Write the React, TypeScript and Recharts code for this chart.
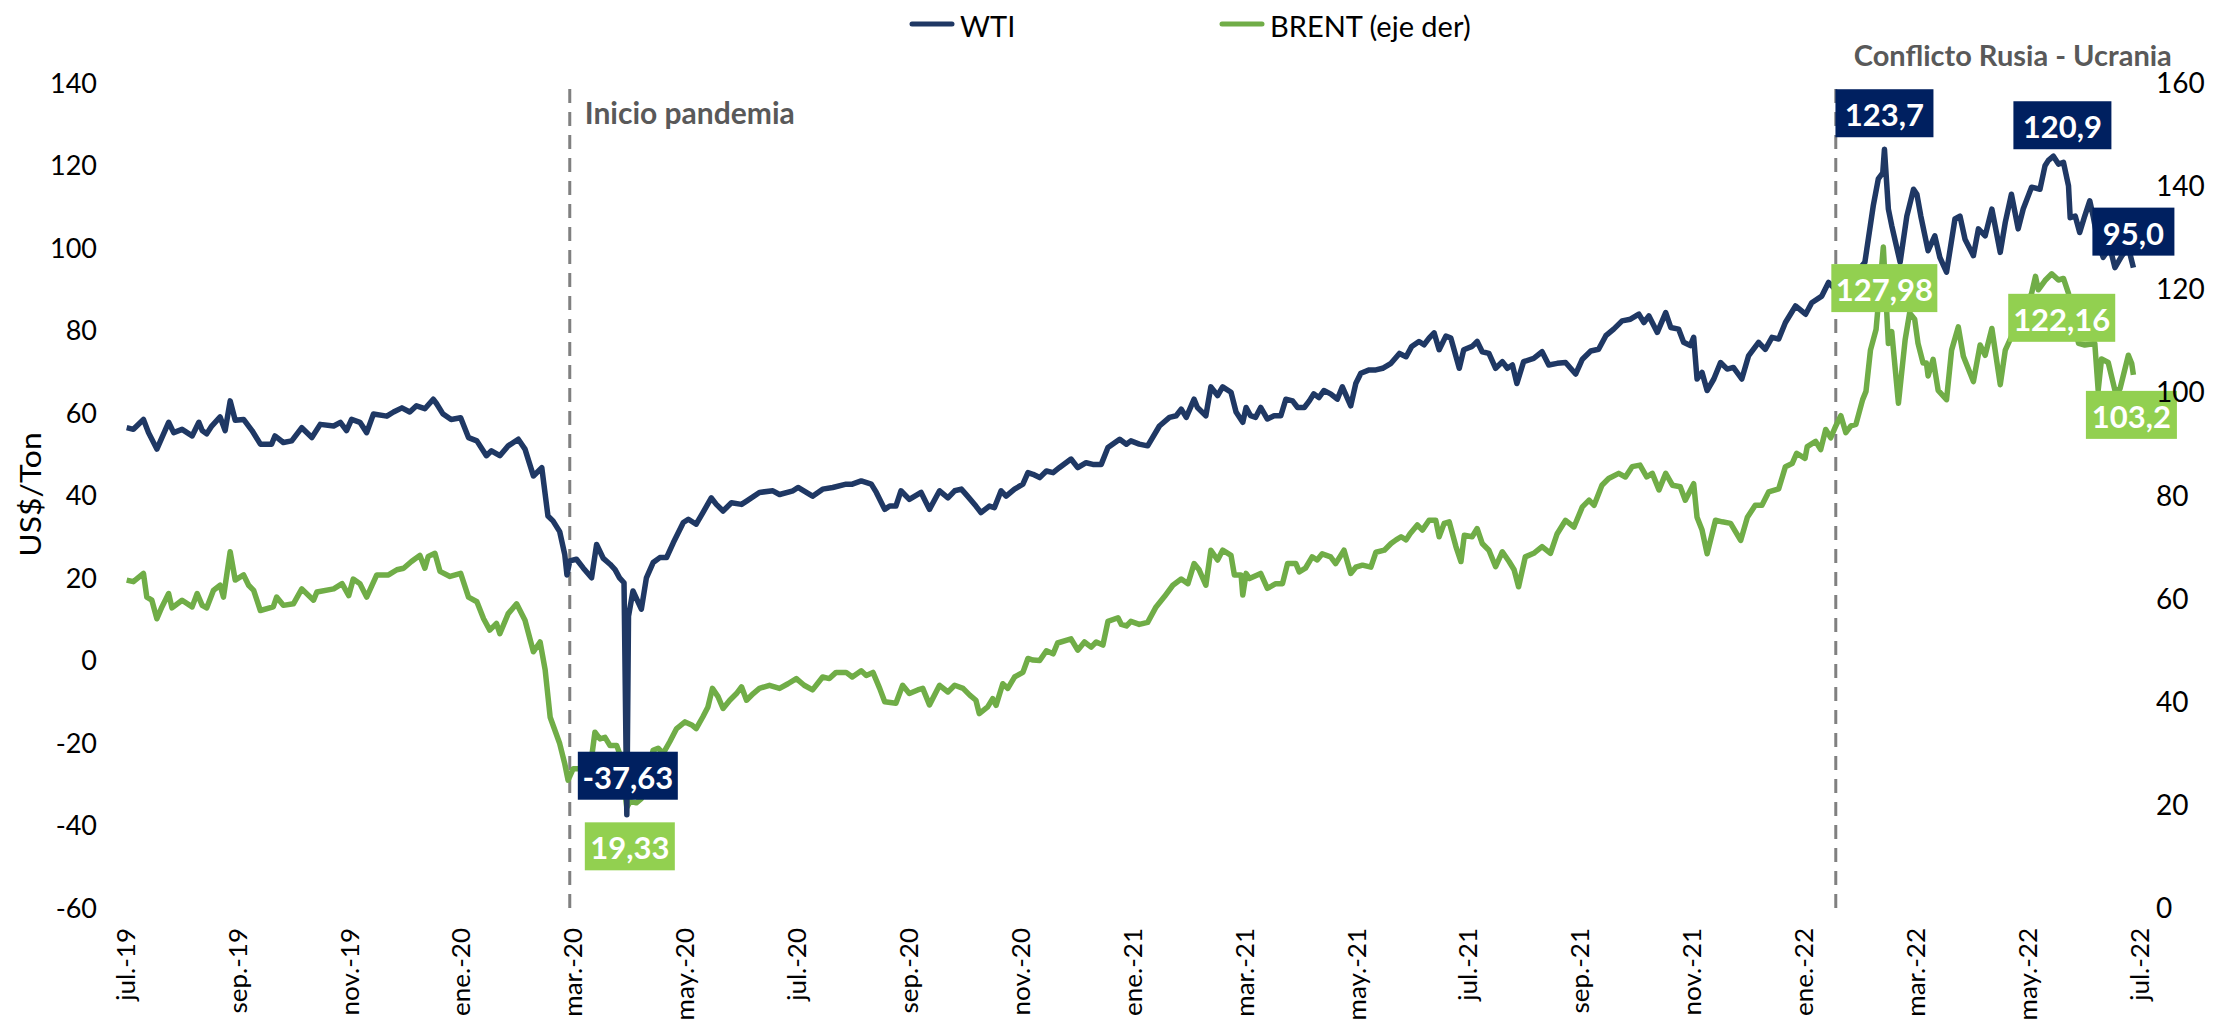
import React from 'react';
import { LineChart, Line, XAxis, YAxis, ReferenceLine, ReferenceDot, Legend, Label } from 'recharts';

// months elapsed since jul-2019 (position on the date axis)
const WTI_T = [0.03,0.15,0.33,0.42,0.57,0.66,0.78,0.87,1.02,1.2,1.32,1.38,1.46,1.55,1.7,1.79,1.88,1.97,2.12,2.27,2.42,2.62,2.68,2.83,2.98,3.16,3.34,3.49,3.73,3.85,3.96,4.05,4.2,4.32,4.44,4.68,4.8,4.95,5.09,5.21,5.36,5.51,5.57,5.68,5.83,6.0,6.14,6.29,6.46,6.55,6.7,6.85,7.03,7.15,7.3,7.45,7.56,7.65,7.77,7.86,7.9,7.95,8.07,8.19,8.34,8.43,8.55,8.67,8.76,8.84,8.92,8.97,9.0,9.08,9.23,9.32,9.44,9.56,9.68,9.8,9.98,10.07,10.21,10.33,10.48,10.57,10.69,10.84,11.02,11.11,11.34,11.58,11.7,11.94,12.03,12.29,12.47,12.65,12.89,13.0,13.16,13.34,13.43,13.58,13.67,13.78,13.87,14.02,14.23,14.38,14.56,14.71,14.83,14.95,15.06,15.21,15.3,15.45,15.54,15.66,15.75,15.9,16.05,16.14,16.23,16.35,16.47,16.59,16.7,16.91,17.03,17.18,17.3,17.45,17.57,17.78,17.9,17.98,18.13,18.28,18.49,18.67,18.79,18.88,18.97,19.11,19.17,19.32,19.41,19.53,19.62,19.77,19.86,19.98,20.04,20.12,20.21,20.3,20.42,20.54,20.66,20.75,20.87,20.96,21.08,21.17,21.25,21.34,21.43,21.55,21.67,21.76,21.91,22.0,22.09,22.24,22.36,22.48,22.63,22.78,22.9,23.0,23.13,23.22,23.31,23.4,23.49,23.61,23.7,23.85,23.93,24.08,24.17,24.26,24.38,24.5,24.62,24.71,24.8,24.88,25.0,25.18,25.33,25.45,25.6,25.75,25.93,26.05,26.2,26.34,26.47,26.61,26.76,26.91,27.06,27.15,27.24,27.39,27.54,27.63,27.77,27.86,27.98,28.04,28.1,28.19,28.28,28.4,28.52,28.64,28.75,28.9,29.02,29.2,29.32,29.44,29.56,29.68,29.86,30.04,30.15,30.33,30.45,30.54,30.7,30.9,31.1,31.25,31.34,31.42,31.45,31.52,31.58,31.73,31.85,31.97,32.03,32.1,32.23,32.35,32.44,32.56,32.71,32.8,32.89,33.04,33.13,33.25,33.37,33.52,33.61,33.72,33.84,33.93,34.08,34.23,34.32,34.38,34.47,34.56,34.65,34.74,34.77,34.86,34.94,35.03,35.12,35.18,35.27,35.36,35.48,35.57,35.69,35.81,35.9];
const WTI = [56.2,55.8,58.2,55.0,51.0,53.8,57.5,55.0,55.8,54.2,57.5,55.5,54.7,56.6,58.8,55.5,62.7,58.0,58.2,55.5,52.2,52.2,54.2,52.6,53.0,56.2,53.8,57.0,56.6,57.5,55.5,58.2,57.5,55.0,59.5,59.0,60.0,61.0,60.0,61.5,60.8,63.1,62.0,59.6,58.2,58.6,53.8,53.0,49.4,50.6,49.4,51.8,53.4,51.0,44.5,46.5,34.8,33.6,31.0,25.5,20.5,23.9,24.3,22.2,19.8,27.9,24.5,23.1,21.8,19.8,18.6,-37.63,10.5,16.6,12.2,19.8,23.5,24.7,24.7,28.3,33.2,34.0,32.8,35.6,39.2,37.6,36.0,38.0,37.6,38.4,40.5,40.9,40.0,40.9,41.7,39.6,41.3,41.7,42.5,42.5,43.3,42.5,40.5,36.4,37.2,37.2,40.9,38.8,40.5,36.4,40.9,39.2,40.9,41.3,39.6,37.2,35.6,37.2,36.8,40.9,39.6,41.3,42.5,45.3,44.9,44.1,45.7,45.3,46.5,48.6,46.5,47.7,47.3,47.3,51.4,53.4,52.2,53.0,52.2,51.8,56.6,58.7,59.1,60.7,58.7,63.1,61.1,59.1,66.1,64.0,66.1,64.8,60.0,57.5,61.1,59.1,58.7,61.1,58.3,59.1,59.1,63.1,62.7,61.1,61.1,62.7,64.4,63.5,65.2,64.4,63.1,66.1,61.5,66.9,69.4,70.2,70.2,70.6,71.8,74.2,73.4,75.9,77.1,76.3,77.9,79.2,75.1,78.4,77.9,70.6,75.1,75.9,77.1,74.6,74.2,70.6,72.2,70.6,71.4,66.9,72.2,73.0,74.6,71.4,71.8,72.0,69.2,72.8,74.8,75.2,78.5,80.1,82.1,82.5,83.7,81.7,83.3,79.3,84.1,80.5,80.1,76.9,76.1,78.1,68.0,69.6,65.2,68.0,72.0,70.4,70.8,68.0,73.6,76.9,75.2,78.1,77.7,81.7,85.7,83.7,86.5,88.1,91.4,90.2,91.0,93.0,96.3,110.0,116.5,118.0,123.7,109.2,105.2,96.3,107.5,114.0,112.8,107.5,99.1,102.7,97.5,93.9,106.8,107.5,101.9,97.9,104.4,102.7,109.2,98.7,106.0,112.8,104.4,109.2,114.5,114.0,119.7,121.0,122.0,120.1,120.5,114.8,107.1,107.5,103.5,107.5,111.2,107.5,101.0,97.5,99.9,95.0,97.8,99.9,95.0];

const BRENT_T = [0.03,0.15,0.33,0.39,0.48,0.57,0.66,0.78,0.84,1.02,1.2,1.29,1.38,1.46,1.58,1.7,1.76,1.88,1.97,2.12,2.21,2.3,2.42,2.65,2.71,2.83,3.01,3.16,3.37,3.43,3.73,3.88,4.0,4.08,4.2,4.32,4.5,4.71,4.86,4.98,5.12,5.27,5.36,5.42,5.54,5.63,5.81,6.0,6.14,6.29,6.41,6.52,6.64,6.7,6.85,7.0,7.15,7.3,7.42,7.51,7.6,7.66,7.77,7.86,7.92,8.01,8.19,8.31,8.4,8.49,8.58,8.67,8.79,8.85,8.97,9.03,9.14,9.23,9.44,9.53,9.62,9.74,9.86,10.01,10.13,10.21,10.33,10.42,10.5,10.6,10.69,10.81,10.93,11.02,11.11,11.23,11.34,11.52,11.7,11.85,12.0,12.14,12.29,12.47,12.59,12.71,12.89,13.0,13.16,13.25,13.37,13.49,13.58,13.78,13.9,14.02,14.17,14.26,14.38,14.56,14.71,14.83,14.98,15.1,15.21,15.27,15.42,15.51,15.57,15.69,15.78,15.9,16.05,16.14,16.23,16.35,16.47,16.59,16.67,16.91,17.03,17.15,17.27,17.36,17.48,17.57,17.75,17.81,17.9,17.98,18.13,18.28,18.43,18.58,18.73,18.88,19.0,19.11,19.2,19.32,19.41,19.53,19.62,19.77,19.83,19.95,19.98,20.04,20.1,20.3,20.42,20.57,20.69,20.78,20.93,20.99,21.1,21.22,21.31,21.4,21.55,21.64,21.79,21.91,22.0,22.12,22.27,22.36,22.51,22.63,22.72,22.81,22.9,22.97,23.1,23.19,23.31,23.43,23.49,23.58,23.67,23.79,23.88,23.94,24.08,24.17,24.26,24.38,24.5,24.62,24.74,24.83,24.91,25.03,25.18,25.33,25.48,25.6,25.75,25.9,26.05,26.17,26.26,26.4,26.52,26.7,26.82,26.94,27.08,27.2,27.3,27.42,27.54,27.66,27.8,27.89,28.04,28.1,28.19,28.28,28.43,28.55,28.7,28.88,29.0,29.14,29.26,29.38,29.56,29.68,29.8,29.88,30.03,30.07,30.22,30.31,30.4,30.49,30.58,30.67,30.76,30.85,30.94,31.06,31.12,31.2,31.3,31.43,31.52,31.58,31.7,31.82,31.9,31.99,32.05,32.14,32.2,32.23,32.32,32.41,32.56,32.65,32.77,32.86,33.04,33.16,33.25,33.37,33.52,33.61,33.72,33.8,33.95,34.08,34.15,34.2,34.32,34.44,34.56,34.65,34.74,34.86,34.92,35.03,35.21,35.27,35.33,35.45,35.57,35.66,35.81,35.87,35.9];
const BRENT = [63.4,63.1,64.7,60.1,59.5,55.9,58.2,60.8,58.0,59.5,58.2,60.8,58.5,58.0,61.4,62.4,60.1,68.9,63.4,64.4,62.4,61.4,57.5,58.2,60.1,58.5,58.8,61.7,59.5,61.1,61.7,62.7,60.4,63.6,62.7,60.1,64.4,64.4,65.4,65.7,67.0,68.2,65.7,68.0,68.6,65.1,64.1,64.7,60.1,59.2,55.9,53.7,55.0,53.0,56.9,58.8,55.6,49.5,51.4,46.0,36.8,35.0,31.7,27.8,24.6,26.8,26.8,26.5,33.9,32.6,32.9,31.3,31.3,29.5,19.33,20.5,20.2,21.0,30.4,30.8,29.8,32.1,34.6,35.9,35.3,34.6,36.9,38.8,42.4,40.8,38.5,40.1,41.4,42.7,40.1,41.4,42.4,43.0,42.4,43.3,44.3,43.0,42.1,44.6,44.3,45.5,45.5,44.6,45.8,44.9,45.5,42.4,39.8,39.5,43.0,41.4,42.1,42.4,39.2,43.0,41.7,43.0,42.4,41.1,40.1,37.5,38.8,40.4,39.1,43.3,42.4,44.6,45.5,48.2,47.9,47.8,49.7,49.1,51.2,52.0,49.8,51.4,50.4,51.4,50.8,55.4,56.1,54.8,54.5,55.4,54.8,55.2,58.2,60.2,62.4,63.6,62.7,66.6,65.4,62.4,69.2,67.3,69.2,68.2,64.4,64.4,60.5,64.7,63.7,64.7,61.8,62.7,62.7,66.6,66.6,65.0,65.7,67.9,67.3,68.5,67.9,66.6,69.2,64.7,65.9,66.3,65.9,68.8,69.2,70.5,71.2,71.8,71.2,72.4,74.1,73.1,75.0,75.0,71.8,74.4,74.7,69.9,67.0,72.1,71.8,73.4,70.5,69.2,66.0,68.9,67.0,65.4,62.1,67.9,68.6,69.9,68.6,72.4,75.0,73.7,77.6,78.9,77.9,81.8,83.1,84.1,83.4,85.4,85.7,83.4,84.1,80.9,84.1,81.8,81.5,78.9,82.1,75.6,73.1,68.5,75.0,74.7,74.4,71.1,75.6,77.9,77.9,80.5,81.1,85.4,86.0,88.0,87.0,89.3,90.3,88.7,92.6,91.0,93.3,95.3,92.0,93.3,93.6,98.4,100.0,108.0,112.0,127.98,109.3,111.6,97.7,110.0,115.2,114.0,109.3,105.5,105.5,103.0,106.2,100.2,98.4,108.0,112.5,106.8,101.9,109.0,107.0,112.2,101.3,108.0,110.6,114.5,116.0,119.0,122.3,119.7,121.5,122.8,121.6,121.9,119.0,112.0,109.3,109.0,109.3,100.2,106.3,105.6,100.2,100.5,107.0,105.4,103.2];

const TICK_T = [0,2,4,6,8,10,12,14,16,18,20,22,24,26,28,30,32,34,36];
const TICK_LABELS = ['jul.-19','sep.-19','nov.-19','ene.-20','mar.-20','may.-20','jul.-20','sep.-20','nov.-20','ene.-21','mar.-21','may.-21','jul.-21','sep.-21','nov.-21','ene.-22','mar.-22','may.-22','jul.-22'];
const LEFT_TICKS = [-60,-40,-20,0,20,40,60,80,100,120,140];
const RIGHT_TICKS = [0,20,40,60,80,100,120,140,160];

const WTI_CALLOUT_T = [8.97, 31.45, 34.47, 35.9];
const WTI_CALLOUT_V = [-37.63, 123.7, 122.0, 95.0];
const WTI_CALLOUT_TEXT = ['-37,63', '123,7', '120,9', '95,0'];
const BRENT_CALLOUT_T = [8.97, 31.43, 34.44, 35.9];
const BRENT_CALLOUT_V = [19.33, 127.98, 122.8, 103.2];
const BRENT_CALLOUT_TEXT = ['19,33', '127,98', '122,16', '103,2'];

const EVENT_T = [7.95, 30.58];
const EVENT_TEXT = ['Inicio pandemia', 'Conflicto Rusia - Ucrania'];

// layout (not data)
const WTI_BOX = [{ dx: 1, dy: -39, w: 100 }, { dx: 0, dy: -36, w: 98 }, { dx: 9, dy: -31, w: 98 }, { dx: 0, dy: -36, w: 82 }];
const BRENT_BOX = [{ dx: 3, dy: 39, w: 90 }, { dx: 1, dy: 41, w: 106 }, { dx: 10, dy: 44, w: 107 }, { dx: -2, dy: 40, w: 91 }];
const EVENT_LABEL_Y = [132.7, 146.6];
const EVENT_LABEL_DX = [15, 18];
const EVENT_FONT = [30, 29];

const NAVY = '#1F3864';
const GREEN = '#70AD47';
const BOX_NAVY = '#002060';
const BOX_GREEN = '#92D050';
const FONT = 'Lato, "Open Sans", sans-serif';

const wtiData = WTI_T.map((t, i) => ({ t, wti: WTI[i] }));
const brentData = BRENT_T.map((t, i) => ({ t, brent: BRENT[i] }));

const W = 2205;
const H = 1018;

const boxShape = (text: string, fill: string, dx: number, dy: number, w: number) => (p: any) => {
  const cx = p.cx + dx;
  const cy = p.cy + dy;
  const h = 48;
  return (
    <g>
      <rect x={cx - w / 2} y={cy - h / 2} width={w} height={h} fill={fill} />
      <text x={cx} y={cy + 1} textAnchor="middle" dominantBaseline="central" fill="#ffffff"
        fontFamily={FONT} fontWeight={700} fontSize={31}>{text}</text>
    </g>
  );
};

const eventShape = (text: string, dx: number, fs: number) => (p: any) => (
  <text x={p.cx + dx} y={p.cy} dominantBaseline="central" fill="#595959"
    fontFamily={FONT} fontWeight={700} fontSize={fs}>{text}</text>
);

const LeftTick = (p: any) => (
  <text x={p.x - 28} y={p.y} textAnchor="end" dominantBaseline="central" fill="#000"
    fontFamily={FONT} fontSize={27}>{p.payload.value}</text>
);
const RightTick = (p: any) => (
  <text x={p.x + 17} y={p.y} textAnchor="start" dominantBaseline="central" fill="#000"
    fontFamily={FONT} fontSize={28}>{p.payload.value}</text>
);
const XTick = (p: any) => {
  const idx = TICK_T.indexOf(p.payload.value);
  return (
    <text transform={`translate(${p.x},${p.y + 21}) rotate(-90) scale(1.04,1)`} textAnchor="end"
      dominantBaseline="central" fill="#000" fontFamily={FONT} fontSize={25}>
      {idx >= 0 ? TICK_LABELS[idx] : ''}
    </text>
  );
};

const YTitle = (p: any) => {
  const vb = p.viewBox || { x: 56, y: 74, width: 60, height: 825 };
  return (
    <text transform={`translate(${vb.x - 35},${vb.y + vb.height / 2}) rotate(-90) scale(1.1,1)`}
      textAnchor="middle" dominantBaseline="central" fill="#000" fontFamily={FONT} fontSize={29}>
      US$/Ton
    </text>
  );
};

const LegendContent = () => (
  <div style={{ height: 40, position: 'relative', width: W }}>
    <svg width={W} height={40} style={{ display: 'block' }}>
      <line x1={904} x2={944} y1={16} y2={16} stroke={NAVY} strokeWidth={5} strokeLinecap="round" />
      <text x={952} y={17} dominantBaseline="central" fontFamily={FONT} fontSize={29} fill="#000">WTI</text>
      <line x1={1214} x2={1254} y1={16} y2={16} stroke={GREEN} strokeWidth={5} strokeLinecap="round" />
      <text x={1262} y={17} dominantBaseline="central" fontFamily={FONT} fontSize={29} fill="#000">BRENT (eje der)</text>
    </svg>
  </div>
);

export default function App() {
  return (
    <div style={{ width: W, height: H, background: '#fff' }}>
      <LineChart width={W} height={H} margin={{ top: 34, right: 14, bottom: 19, left: 57 }}>
        <Legend verticalAlign="top" align="left" content={<LegendContent />}
          wrapperStyle={{ top: 0, left: 0, width: W, height: 40 }} />
        <XAxis dataKey="t" type="number" domain={[0, 36]} ticks={TICK_T} allowDataOverflow
          axisLine={false} tickLine={false} tickSize={0} tickMargin={0} height={100}
          interval={0} tick={<XTick />} />
        <YAxis yAxisId="left" orientation="left" domain={[-60, 140]} ticks={LEFT_TICKS}
          axisLine={false} tickLine={false} tickSize={0} tickMargin={0} width={60}
          tick={<LeftTick />} allowDataOverflow>
          <Label content={<YTitle />} />
        </YAxis>
        <YAxis yAxisId="right" orientation="right" domain={[0, 160]} ticks={RIGHT_TICKS}
          axisLine={false} tickLine={false} tickSize={0} tickMargin={0} width={60}
          tick={<RightTick />} allowDataOverflow />

        {EVENT_T.map((t, i) => (
          <ReferenceLine key={'ev' + i} yAxisId="left" ifOverflow="visible"
            segment={[{ x: t, y: 138.3 }, { x: t, y: -60.7 }]}
            stroke="#808080" strokeWidth={3} strokeDasharray="14 9" />
        ))}

        <Line data={brentData} yAxisId="right" dataKey="brent" stroke={GREEN} strokeWidth={5.5}
          dot={false} isAnimationActive={false} strokeLinejoin="round" name="BRENT (eje der)" />
        <Line data={wtiData} yAxisId="left" dataKey="wti" stroke={NAVY} strokeWidth={5.5}
          dot={false} isAnimationActive={false} strokeLinejoin="round" name="WTI" />

        {EVENT_T.map((t, i) => (
          <ReferenceDot key={'evl' + i} yAxisId="left" x={t} y={EVENT_LABEL_Y[i]} ifOverflow="visible"
            shape={eventShape(EVENT_TEXT[i], EVENT_LABEL_DX[i], EVENT_FONT[i])} />
        ))}
        {WTI_CALLOUT_T.map((t, i) => (
          <ReferenceDot key={'wc' + i} yAxisId="left" x={t} y={WTI_CALLOUT_V[i]} ifOverflow="visible"
            shape={boxShape(WTI_CALLOUT_TEXT[i], BOX_NAVY, WTI_BOX[i].dx, WTI_BOX[i].dy, WTI_BOX[i].w)} />
        ))}
        {BRENT_CALLOUT_T.map((t, i) => (
          <ReferenceDot key={'bc' + i} yAxisId="right" x={t} y={BRENT_CALLOUT_V[i]} ifOverflow="visible"
            shape={boxShape(BRENT_CALLOUT_TEXT[i], BOX_GREEN, BRENT_BOX[i].dx, BRENT_BOX[i].dy, BRENT_BOX[i].w)} />
        ))}
      </LineChart>
    </div>
  );
}
